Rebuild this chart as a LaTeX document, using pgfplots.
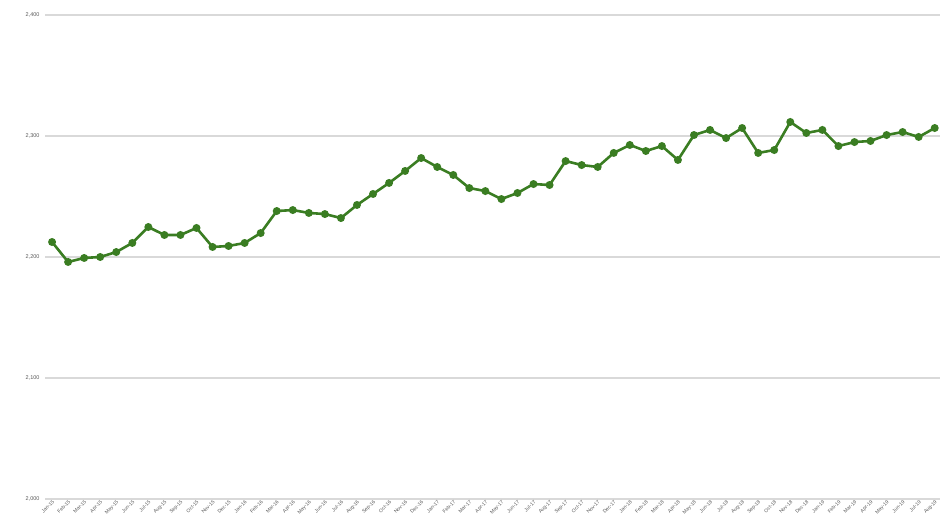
\documentclass[border=0pt]{standalone}
\usepackage{fontspec}
\setmainfont{Liberation Sans}
\usepackage{pgfplots}
\pgfplotsset{compat=1.18}
\definecolor{linegreen}{HTML}{3A7D22}
\definecolor{gridgray}{HTML}{D9D9D9}
\definecolor{labgray}{HTML}{595959}
\begin{document}
\begin{tikzpicture}[x=1pt,y=1pt]
\useasboundingbox (-45,-32) rectangle (895,499);
\begin{axis}[
  scale only axis,
  width=895pt, height=484pt,
  xmin=-0.44, xmax=55.33,
  ymin=2000, ymax=2400,
  ytick={2000,2100,2200,2300,2400},
  axis line style={draw=none},
  tick style={draw=none},
  ymajorgrids,
  grid style={gridgray, line width=1.1pt},
  /pgf/number format/assume math mode=true,
  /pgf/number format/1000 sep={,},
  yticklabel style={font=\fontsize{5.5}{6.5}\selectfont, text=labgray, xshift=-2pt},
  xtick={0,...,55},
  xticklabels={Jan-15,Feb-15,Mar-15,Apr-15,May-15,Jun-15,Jul-15,Aug-15,Sep-15,Oct-15,Nov-15,Dec-15,
    Jan-16,Feb-16,Mar-16,Apr-16,May-16,Jun-16,Jul-16,Aug-16,Sep-16,Oct-16,Nov-16,Dec-16,
    Jan-17,Feb-17,Mar-17,Apr-17,May-17,Jun-17,Jul-17,Aug-17,Sep-17,Oct-17,Nov-17,Dec-17,
    Jan-18,Feb-18,Mar-18,Apr-18,May-18,Jun-18,Jul-18,Aug-18,Sep-18,Oct-18,Nov-18,Dec-18,
    Jan-19,Feb-19,Mar-19,Apr-19,May-19,Jun-19,Jul-19,Aug-19},
  xticklabel style={font=\fontsize{5}{5.5}\selectfont, text=labgray, rotate=45, anchor=north east, inner sep=0.5pt},
  clip=false,
]
\addplot[linegreen, line width=2.6pt, mark=*, mark size=2.6pt, mark options={fill=linegreen, draw=linegreen}] coordinates {
(0,2212.4) (1,2195.9) (2,2199.2) (3,2200.0) (4,2204.1) (5,2211.6) (6,2224.8) (7,2218.2)
(8,2218.2) (9,2224.0) (10,2208.3) (11,2209.1) (12,2211.6) (13,2219.8) (14,2238.0) (15,2238.8)
(16,2236.4) (17,2235.5) (18,2232.2) (19,2243.0) (20,2252.1) (21,2261.2) (22,2271.1) (23,2281.8)
(24,2274.4) (25,2267.8) (26,2257.0) (27,2254.5) (28,2247.9) (29,2252.9) (30,2260.3) (31,2259.5)
(32,2279.3) (33,2276.0) (34,2274.4) (35,2286.0) (36,2292.6) (37,2287.6) (38,2291.7) (39,2280.2)
(40,2300.8) (41,2305.0) (42,2298.3) (43,2306.6) (44,2286.0) (45,2288.4) (46,2311.6) (47,2302.5)
(48,2305.0) (49,2291.7) (50,2295.0) (51,2295.9) (52,2300.8) (53,2303.3) (54,2299.2) (55,2306.6)
};
\end{axis}
\end{tikzpicture}
\end{document}
